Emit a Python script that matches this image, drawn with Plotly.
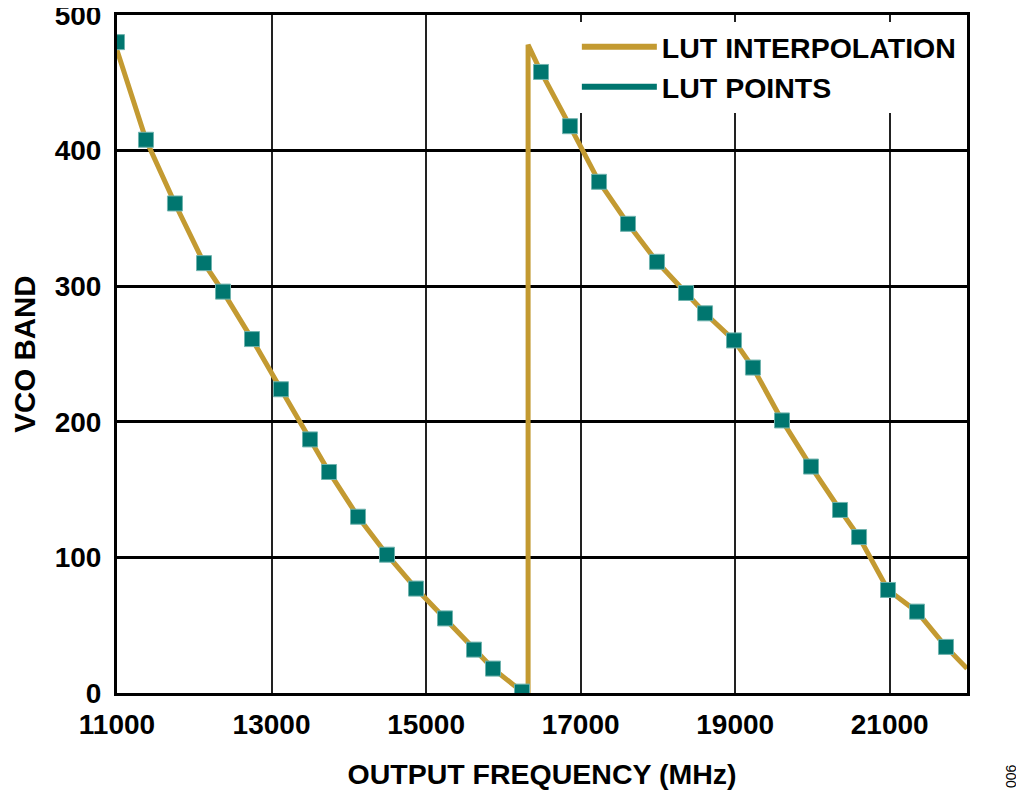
import plotly.graph_objects as go

# LUT points (MHz, VCO band)
lut_freq = [11000, 11375, 11750, 12126, 12372, 12747, 13122, 13498, 13744, 14119,
            14494, 14870, 15245, 15620, 15866, 16241,
            16487, 16862, 17238, 17613, 17988, 18364, 18610, 18985, 19230, 19606,
            19981, 20357, 20603, 20978, 21353, 21728]
lut_band = [480, 408, 361, 317, 296, 261, 224, 187, 163, 130,
            102, 77, 55, 32, 18, 1,
            458, 418, 377, 346, 318, 295, 280, 260, 240, 201,
            167, 135, 115, 76, 60, 34]

# interpolation curve: LUT points plus the band wrap and the end of the sweep
interp_freq = [11000] + lut_freq[1:16] + [16320, 16320] + lut_freq[16:] + [22000]
interp_band = [474] + lut_band[1:16] + [0, 478] + lut_band[16:] + [18]

GOLD = "#C39A31"
TEAL = "#00766F"
FONT = "Liberation Sans, Arial, sans-serif"

fig = go.Figure()

fig.add_trace(go.Scatter(
    x=interp_freq, y=interp_band,
    mode="lines", name="LUT INTERPOLATION",
    line=dict(color=GOLD, width=5),
    showlegend=False
))

fig.add_trace(go.Scatter(
    x=lut_freq, y=lut_band,
    mode="markers", name="LUT POINTS",
    marker=dict(symbol="square", size=15, color=TEAL,
                line=dict(color="#6FB3AE", width=1)),
    showlegend=False
))

# legend entries (both shown as line samples)
fig.add_trace(go.Scatter(x=[None], y=[None], mode="lines", name="LUT INTERPOLATION",
                         line=dict(color=GOLD, width=6)))
fig.add_trace(go.Scatter(x=[None], y=[None], mode="lines", name="LUT POINTS",
                         line=dict(color=TEAL, width=6)))

# page body adds an 8px offset, so the figure is 8px smaller on each side
fig.update_layout(
    width=1016, height=788,
    margin=dict(l=109, r=57, t=7, b=103, autoexpand=False),
    paper_bgcolor="white", plot_bgcolor="white",
    font=dict(family=FONT, size=28, color="black", weight="bold"),
    legend=dict(x=0.541, y=0.99, xanchor="left", yanchor="top",
                bgcolor="white", borderwidth=0, itemwidth=75,
                font=dict(size=28.5), tracegroupgap=0),
)
fig.add_annotation(text="006", x=(1011 - 117) / 850, y=(693 - 776) / 678,
                   xref="paper", yref="paper", xanchor="center", yanchor="middle",
                   showarrow=False, textangle=-90,
                   font=dict(size=14, weight="normal"))

fig.update_xaxes(
    range=[11000, 22000], dtick=2000, tick0=11000, tickformat="d",
    showgrid=True, gridcolor="#222222", gridwidth=1.5,
    showline=True, linecolor="black", linewidth=3, mirror=True,
    zeroline=False, ticks="outside", ticklen=0, ticklabelstandoff=4,
    automargin=False,
    title=dict(text="OUTPUT FREQUENCY (MHz)", standoff=26, font=dict(size=28.5))
)
fig.update_yaxes(
    range=[0, 500], dtick=100,
    showgrid=True, gridcolor="black", gridwidth=2.5,
    showline=True, linecolor="black", linewidth=3, mirror=True,
    zeroline=False, ticks="outside", ticklen=0, ticklabelstandoff=7,
    ticklabeloverflow="allow", automargin=False,
    title=dict(text="VCO BAND", standoff=44, font=dict(size=29.5))
)

fig.write_html("out.html")
